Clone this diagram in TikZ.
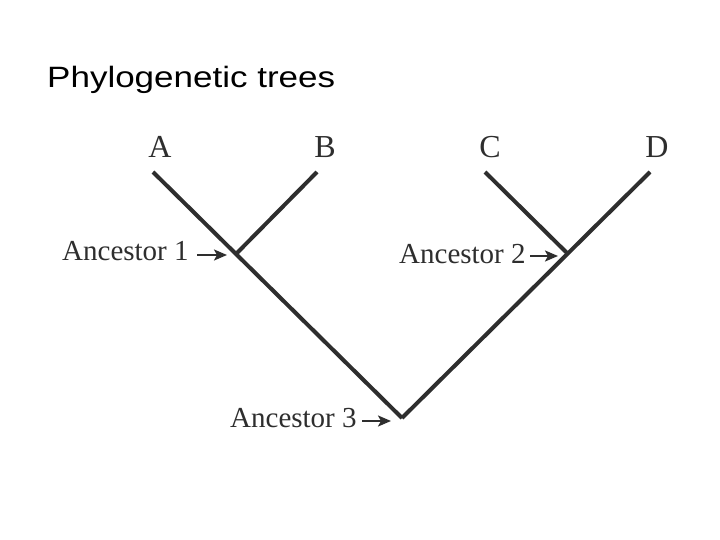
\documentclass[tikz,border=0pt]{standalone}
\usepackage{fontspec}
\setmainfont{Liberation Serif}
\newfontfamily\titlefont{Liberation Sans}
\usetikzlibrary{arrows.meta}
\definecolor{ink}{HTML}{2E2E2E}
\begin{document}
\begin{tikzpicture}[x=1pt,y=-1pt,
  branch/.style={draw=ink,line width=4pt},
  ptr/.style={draw=ink,line width=2pt,-{Stealth[length=13pt,width=11pt,inset=3pt]}},
  tiplab/.style={anchor=base,inner sep=0pt,text=ink,font=\fontsize{32}{36}\selectfont},
  anclab/.style={anchor=base west,inner sep=0pt,text=ink,font=\fontsize{29}{34}\selectfont}]
\useasboundingbox[fill=white] (0,0) rectangle (720,540);
% title
\node[anchor=base west,inner sep=0pt] (title) at (47,88)
  {\scalebox{1.25}[1.05]{\titlefont\fontsize{28}{32}\selectfont Phylogenetic trees}};
% tips and junctions
\coordinate (tA) at (153,172);
\coordinate (tB) at (317,172);
\coordinate (tC) at (485,172);
\coordinate (tD) at (650,172);
\coordinate (j1) at (237,253);
\coordinate (j2) at (567,253);
\coordinate (j3) at (402,418);
% tip labels
\node[tiplab] (A) at (160,158) {A};
\node[tiplab] (B) at (325,158) {B};
\node[tiplab] (C) at (490,158) {C};
\node[tiplab] (D) at (657,158) {D};
% branches
\draw[branch] (tA) -- (j3);
\draw[branch] (tD) -- (j3);
\draw[branch] (tB) -- (j1);
\draw[branch] (tC) -- (j2);
% ancestor labels
\node[anclab] (an1) at (62,260) {Ancestor 1};
\node[anclab] (an2) at (399,263) {Ancestor 2};
\node[anclab] (an3) at (230,427) {Ancestor 3};
\coordinate (p1s) at (197,255); \coordinate (p1e) at (227,255);
\coordinate (p2s) at (530,256); \coordinate (p2e) at (558,256);
\coordinate (p3s) at (362,421); \coordinate (p3e) at (391,421);
\draw[ptr] (p1s) -- (p1e);
\draw[ptr] (p2s) -- (p2e);
\draw[ptr] (p3s) -- (p3e);
\end{tikzpicture}
\end{document}
